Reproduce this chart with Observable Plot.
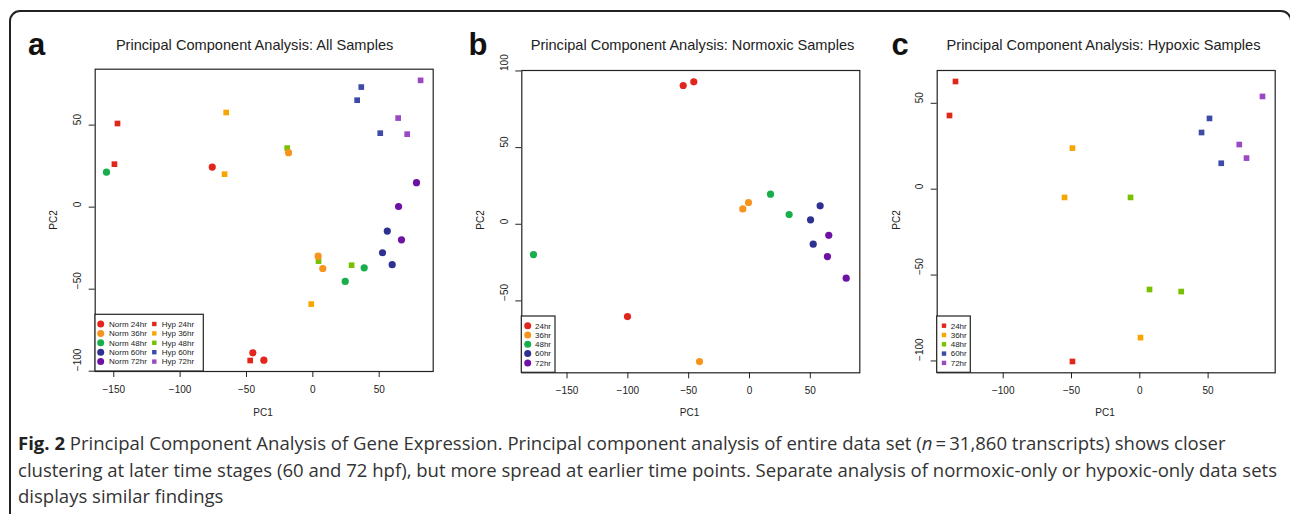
<!DOCTYPE html>
<html><head><meta charset="utf-8">
<script src="https://cdn.jsdelivr.net/npm/d3@7"></script>
<script src="https://cdn.jsdelivr.net/npm/@observablehq/plot@0.6"></script>
<style>
body{margin:0;background:#fff;}
#root{position:relative;width:1290px;height:514px;overflow:hidden;font-family:"Liberation Sans",Arial,sans-serif;}
#overlay{position:absolute;left:0;top:0;}
#caption{position:absolute;left:18px;top:430px;font-family:"Open Sans";font-size:18.5px;line-height:26.5px;color:#333;white-space:nowrap;transform-origin:0 0;}
#caption span{display:inline-block;}
</style></head><body><div id="root"></div>
<script>
// ---------- data ----------
const timepoints = ["24hr", "36hr", "48hr", "60hr", "72hr"];
const normColors = ["#e3261d", "#f7941d", "#18ae4b", "#2e3192", "#6e11a5"];
const hypColors  = ["#e0271a", "#f7a600", "#77c100", "#3d4aa8", "#9a48c4"];

// Panel a: all samples (3 replicates per timepoint)
const allNormPC1 = [[-75.8, -45.2, -36.9], [-18.3, 4.0, 7.5], [-155.5, 38.7, 24.4], [56.1, 52.5, 59.8], [78.1, 64.6, 66.8]];
const allNormPC2 = [[24.4, -88.8, -93.3], [33.2, -29.9, -37.4], [21.3, -37.0, -45.3], [-14.6, -27.8, -35.1], [14.9, 0.4, -19.9]];
const allHypPC1  = [[-147.2, -149.5, -47.2], [-65.3, -66.5, -1.2], [-19.3, 4.3, 29.2], [36.5, 33.4, 50.8], [81.2, 64.3, 71.1]];
const allHypPC2  = [[51.0, 26.2, -93.5], [57.7, 20.1, -59.1], [36.0, -32.9, -35.4], [73.2, 65.2, 45.1], [77.3, 54.3, 44.5]];
// Panel b: normoxic only
const normPC1 = [[-54.5, -45.8, -100.3], [-0.8, -5.5, -41.1], [17.3, 32.6, -177.6], [58.1, 50.2, 52.4], [65.2, 64.1, 79.5]];
const normPC2 = [[90.5, 92.9, -60.2], [14.2, 10.0, -89.6], [19.6, 6.3, -19.8], [12.0, 2.9, -13.0], [-7.2, -21.1, -35.2]];
// Panel c: hypoxic only
const hypPC1 = [[-134.9, -139.3, -49.3], [-49.3, -55.1, 0.5], [-6.8, 7.1, 30.3], [51.0, 45.2, 59.6], [89.8, 72.8, 78.1]];
const hypPC2 = [[62.7, 42.9, -100.3], [23.9, -4.8, -86.4], [-4.8, -58.4, -59.6], [41.2, 33.0, 15.1], [54.0, 26.0, 18.1]];

const titles = ["Principal Component Analysis: All Samples", "Principal Component Analysis: Normoxic Samples", "Principal Component Analysis: Hypoxic Samples"];
const panelLetters = ["a", "b", "c"];
const xTicksA = [-150, -100, -50, 0, 50], yTicksA = [-100, -50, 0, 50];
const xTicksB = [-150, -100, -50, 0, 50], yTicksB = [-50, 0, 50, 100];
const xTicksC = [-100, -50, 0, 50],       yTicksC = [-100, -50, 0, 50];
const xLabel = "PC1", yLabel = "PC2";

// ---------- helpers ----------
const fmt = d3.format("d");
function rows(PC1, PC2, group) {
  const out = [];
  PC1.forEach((xs, t) => xs.forEach((x, i) => out.push({x, y: PC2[t][i], t, group})));
  return out;
}
const root = document.getElementById("root");

function panel(cfg) {
  const marks = [
    Plot.frame({stroke: "#222", strokeWidth: 1.2}),
    Plot.axisX({ticks: cfg.xTicks, tickSize: 6, tickPadding: 8, fontSize: 10, label: null, tickFormat: fmt}),
    Plot.axisY({ticks: cfg.yTicks, tickSize: 6, label: null, tickFormat: () => ""}),
    Plot.text(cfg.yTicks, {y: d => d, text: d => fmt(d), frameAnchor: "left", rotate: -90, dx: -17.3, lineAnchor: "middle", fontSize: 10, fill: "#222"})
  ];
  for (const s of cfg.series) {
    marks.push(Plot.dot(s.data, {x: "x", y: "y", r: s.r, symbol: s.symbol, fill: d => s.colors[d.t]}));
  }
  const svg = Plot.plot({
    width: cfg.width, height: cfg.height,
    marginLeft: cfg.mL, marginRight: cfg.mR, marginTop: cfg.mT, marginBottom: cfg.mB,
    x: {domain: cfg.xDomain}, y: {domain: cfg.yDomain},
    color: {type: "identity"},
    style: {background: "transparent", color: "#222", fontFamily: "'Liberation Sans', Arial, sans-serif", overflow: "visible"},
    marks
  });
  svg.style.position = "absolute";
  svg.style.left = cfg.left + "px";
  svg.style.top = "0px";
  svg.style.maxWidth = "none";
  root.appendChild(svg);
}

panel({left: 0, width: 440, height: 430, mL: 94.7, mR: 7.3, mT: 68.7, mB: 59,
  xDomain: [-164, 90.7], yDomain: [-100.2, 84.1], xTicks: xTicksA, yTicks: yTicksA,
  series: [
    {data: rows(allHypPC1, allHypPC2, "hyp"), r: 3.2, symbol: "square", colors: hypColors},
    {data: rows(allNormPC1, allNormPC2, "norm"), r: 3.6, symbol: "circle", colors: normColors}
  ]});
panel({left: 440, width: 430, height: 430, mL: 81.3, mR: 10.7, mT: 70, mB: 57.7,
  xDomain: [-187.2, 90.7], yDomain: [-96.9, 100.3], xTicks: xTicksB, yTicks: yTicksB,
  series: [{data: rows(normPC1, normPC2, "norm"), r: 3.6, symbol: "circle", colors: normColors}]});
panel({left: 870, width: 420, height: 430, mL: 66.7, mR: 15.3, mT: 70, mB: 57.7,
  xDomain: [-148.3, 99.1], yDomain: [-106.9, 69.1], xTicks: xTicksC, yTicks: yTicksC,
  series: [{data: rows(hypPC1, hypPC2, "hyp"), r: 3.2, symbol: "square", colors: hypColors}]});

// ---------- overlay: frame, letters, titles, axis labels, legends ----------
const ov = d3.select(root).append("svg").attr("id", "overlay").attr("width", 1290).attr("height", 514)
  .style("font-family", "'Liberation Sans', Arial, sans-serif");
ov.append("rect").attr("x", 10).attr("y", 11).attr("width", 1281).attr("height", 700).attr("rx", 10)
  .attr("fill", "none").attr("stroke", "#222").attr("stroke-width", 2);

const letterX = [28, 468.5, 891.5];
const titleX = [254.6, 692.5, 1103.5];
const pc1X = [263, 689.5, 1105];
const pc2X = [53.3, 480, 896];
panelLetters.forEach((l, i) => {
  ov.append("text").attr("x", letterX[i]).attr("y", 55).attr("font-size", 31).attr("font-weight", "bold").attr("fill", "#111").text(l);
  ov.append("text").attr("x", titleX[i]).attr("y", 50).attr("font-size", 14.6).attr("text-anchor", "middle").attr("fill", "#222").text(titles[i]);
  ov.append("text").attr("x", pc1X[i]).attr("y", 415.5).attr("font-size", 10).attr("text-anchor", "middle").attr("fill", "#222").text(xLabel);
  ov.append("text").attr("transform", `translate(${pc2X[i] + 3.6},220) rotate(-90)`).attr("font-size", 10).attr("text-anchor", "middle").attr("fill", "#222").text(yLabel);
});

function legend(box, cols, y0, step) {
  ov.append("rect").attr("x", box[0]).attr("y", box[1]).attr("width", box[2] - box[0]).attr("height", box[3] - box[1])
    .attr("fill", "white").attr("stroke", "#222").attr("stroke-width", 1.2);
  for (const c of cols) {
    timepoints.forEach((tp, i) => {
      const y = y0 + i * step;
      if (c.symbol === "circle") ov.append("circle").attr("cx", c.mx).attr("cy", y).attr("r", 3.5).attr("fill", c.colors[i]);
      else ov.append("rect").attr("x", c.mx - 2.2).attr("y", y - 2.2).attr("width", 4.4).attr("height", 4.4).attr("fill", c.colors[i]);
      ov.append("text").attr("x", c.tx).attr("y", y).attr("dy", "0.35em").attr("font-size", 8).attr("fill", "#222").text(c.prefix + tp);
    });
  }
}
legend([95, 314.3, 203.3, 371], [
  {symbol: "circle", mx: 100.7, tx: 109, colors: normColors, prefix: "Norm "},
  {symbol: "square", mx: 154.3, tx: 161.7, colors: hypColors, prefix: "Hyp "}], 324, 9.4);
legend([521.3, 316, 555, 372.3], [{symbol: "circle", mx: 527.7, tx: 535, colors: normColors, prefix: ""}], 325.7, 9.3);
legend([936.7, 316, 970.3, 372.3], [{symbol: "square", mx: 944, tx: 950.7, colors: hypColors, prefix: ""}], 325.7, 9.3);

// ---------- caption ----------
const cap = document.createElement("div");
cap.id = "caption";
cap.innerHTML =
  '<span><b style="color:#222">Fig. 2</b> Principal Component Analysis of Gene Expression. Principal component analysis of entire data set (<i>n</i>\u2009=\u200931,860 transcripts) shows closer</span><br>' +
  '<span id="cap2">clustering at later time stages (60 and 72 hpf), but more spread at earlier time points. Separate analysis of normoxic-only or hypoxic-only data sets</span><br>' +
  '<span>displays similar findings</span>';
root.appendChild(cap);
const w2 = document.getElementById("cap2").getBoundingClientRect().width;
cap.style.transform = `scaleX(${1259 / w2})`;
</script></body></html>
